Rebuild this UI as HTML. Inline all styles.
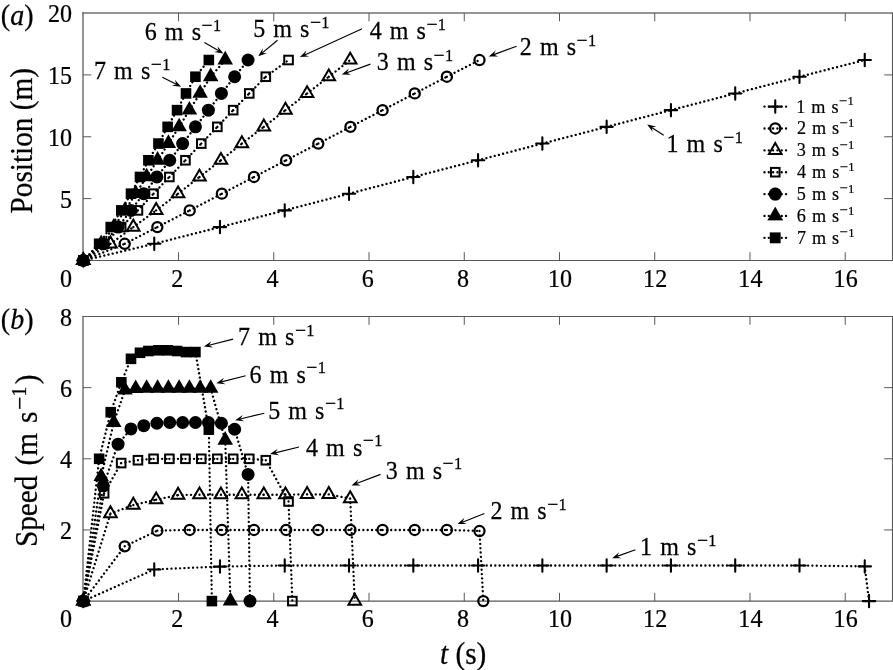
<!DOCTYPE html>
<html lang="en"><head><meta charset="utf-8"><title>Position and speed versus time</title>
<style>html,body{margin:0;padding:0;background:#fff}svg{display:block}</style></head>
<body>
<svg width="893" height="670" viewBox="0 0 893 670">
<rect width="893" height="670" fill="#fff"/>
<path d="M83.0 12.5V261.0" stroke="#2a2a2a" stroke-width="1" fill="none"/>
<path d="M82.5 13.0H893.0" stroke="#2a2a2a" stroke-width="1" fill="none"/>
<path d="M82.5 260.5H893.0M892.5 13.0V260.5" stroke="#585858" stroke-width="1.1" fill="none"/>
<path d="M178.54 260.5v-8.3M178.54 13.0v8.3M273.78 260.5v-8.3M273.78 13.0v8.3M369.02 260.5v-8.3M369.02 13.0v8.3M464.26 260.5v-8.3M464.26 13.0v8.3M559.50 260.5v-8.3M559.50 13.0v8.3M654.74 260.5v-8.3M654.74 13.0v8.3M749.98 260.5v-8.3M749.98 13.0v8.3M845.22 260.5v-8.3M845.22 13.0v8.3M83.0 198.62h8.3M892.50 198.62h-8.3M83.0 136.75h8.3M892.50 136.75h-8.3M83.0 74.88h8.3M892.50 74.88h-8.3" stroke="#585858" stroke-width="1" fill="none"/>
<path d="M83.0 316.0V601.6" stroke="#2a2a2a" stroke-width="1" fill="none"/>
<path d="M82.5 316.5H893.0" stroke="#585858" stroke-width="1" fill="none"/>
<path d="M82.5 601.1H893.0M892.5 316.5V601.1" stroke="#585858" stroke-width="1.1" fill="none"/>
<path d="M178.54 601.1v-8.3M178.54 316.5v8.3M273.78 601.1v-8.3M273.78 316.5v8.3M369.02 601.1v-8.3M369.02 316.5v8.3M464.26 601.1v-8.3M464.26 316.5v8.3M559.50 601.1v-8.3M559.50 316.5v8.3M654.74 601.1v-8.3M654.74 316.5v8.3M749.98 601.1v-8.3M749.98 316.5v8.3M845.22 601.1v-8.3M845.22 316.5v8.3M83.0 529.95h8.3M892.50 529.95h-8.3M83.0 458.80h8.3M892.50 458.80h-8.3M83.0 387.65h8.3M892.50 387.65h-8.3" stroke="#585858" stroke-width="1" fill="none"/>
<g font-family="'Liberation Serif', 'Times New Roman', serif" fill="#000" stroke="#000" stroke-width="0.25">
<text transform="translate(72.00 287.10) scale(0.94 1)" font-size="25.6" text-anchor="end">0</text>
<text transform="translate(72.00 627.30) scale(0.94 1)" font-size="25.6" text-anchor="end">0</text>
<text transform="translate(177.24 287.10) scale(0.94 1)" font-size="25.6" text-anchor="middle">2</text>
<text transform="translate(177.24 627.30) scale(0.94 1)" font-size="25.6" text-anchor="middle">2</text>
<text transform="translate(272.48 287.10) scale(0.94 1)" font-size="25.6" text-anchor="middle">4</text>
<text transform="translate(272.48 627.30) scale(0.94 1)" font-size="25.6" text-anchor="middle">4</text>
<text transform="translate(367.72 287.10) scale(0.94 1)" font-size="25.6" text-anchor="middle">6</text>
<text transform="translate(367.72 627.30) scale(0.94 1)" font-size="25.6" text-anchor="middle">6</text>
<text transform="translate(462.96 287.10) scale(0.94 1)" font-size="25.6" text-anchor="middle">8</text>
<text transform="translate(462.96 627.30) scale(0.94 1)" font-size="25.6" text-anchor="middle">8</text>
<text transform="translate(559.90 287.10) scale(0.94 1)" font-size="25.6" text-anchor="middle">10</text>
<text transform="translate(559.90 627.30) scale(0.94 1)" font-size="25.6" text-anchor="middle">10</text>
<text transform="translate(655.14 287.10) scale(0.94 1)" font-size="25.6" text-anchor="middle">12</text>
<text transform="translate(655.14 627.30) scale(0.94 1)" font-size="25.6" text-anchor="middle">12</text>
<text transform="translate(750.38 287.10) scale(0.94 1)" font-size="25.6" text-anchor="middle">14</text>
<text transform="translate(750.38 627.30) scale(0.94 1)" font-size="25.6" text-anchor="middle">14</text>
<text transform="translate(845.62 287.10) scale(0.94 1)" font-size="25.6" text-anchor="middle">16</text>
<text transform="translate(845.62 627.30) scale(0.94 1)" font-size="25.6" text-anchor="middle">16</text>
<text transform="translate(72.00 207.82) scale(0.94 1)" font-size="25.6" text-anchor="end">5</text>
<text transform="translate(72.00 145.95) scale(0.94 1)" font-size="25.6" text-anchor="end">10</text>
<text transform="translate(72.00 84.08) scale(0.94 1)" font-size="25.6" text-anchor="end">15</text>
<text transform="translate(72.00 22.20) scale(0.94 1)" font-size="25.6" text-anchor="end">20</text>
<text transform="translate(72.00 539.15) scale(0.94 1)" font-size="25.6" text-anchor="end">2</text>
<text transform="translate(72.00 468.00) scale(0.94 1)" font-size="25.6" text-anchor="end">4</text>
<text transform="translate(72.00 396.85) scale(0.94 1)" font-size="25.6" text-anchor="end">6</text>
<text transform="translate(72.00 325.70) scale(0.94 1)" font-size="25.6" text-anchor="end">8</text>
<text transform="translate(0.80 25.30) scale(0.95 1)" font-size="29.5" text-anchor="start">(<tspan font-style="italic">a</tspan>)</text>
<text transform="translate(0.80 328.60) scale(0.95 1)" font-size="29.5" text-anchor="start">(<tspan font-style="italic">b</tspan>)</text>
<text transform="translate(31.50 213.50) rotate(-90) scale(0.945 1)" font-size="31" text-anchor="start">Position (m)</text>
<text transform="translate(36.50 547.10) rotate(-90) scale(0.945 1)" font-size="31" text-anchor="start" word-spacing="2.8">Speed (m s<tspan font-size="25" dy="-8.2" dx="1.7">−</tspan><tspan font-size="20.5" dx="0.4" dy="-2.3">1</tspan><tspan dy="10.5" dx="2.7">)</tspan></text>
<text transform="translate(440.00 663.50) scale(0.945 1)" font-size="31" text-anchor="start"><tspan font-style="italic">t</tspan> (s)</text>
</g>
<path d="M83.30 260.50L154.25 243.79M154.25 243.79L219.97 227.09M219.97 227.09L284.73 210.38M284.73 210.38L349.02 193.68M349.02 193.68L413.31 176.97M413.31 176.97L478.07 160.26M478.07 160.26L542.36 143.56M542.36 143.56L606.64 126.85M606.64 126.85L670.93 110.14M670.93 110.14L735.22 93.44M735.22 93.44L799.50 76.73M799.50 76.73L864.74 60.02" stroke="#000" stroke-width="2.35" stroke-linecap="round" stroke-dasharray="0.01 4.3" fill="none"/>
<path d="M83.30 260.50L124.73 243.79M124.73 243.79L157.35 227.09M157.35 227.09L189.73 210.38M189.73 210.38L221.87 193.68M221.87 193.68L254.02 176.97M254.02 176.97L286.16 160.26M286.16 160.26L318.30 143.56M318.30 143.56L350.45 126.85M350.45 126.85L382.59 110.14M382.59 110.14L414.74 93.44M414.74 93.44L446.88 76.73M446.88 76.73L479.50 60.02" stroke="#000" stroke-width="2.35" stroke-linecap="round" stroke-dasharray="0.01 4.3" fill="none"/>
<path d="M83.30 260.50L110.44 243.79M110.44 243.79L133.30 227.09M133.30 227.09L156.16 210.38M156.16 210.38L178.06 193.68M178.06 193.68L199.49 176.97M199.49 176.97L220.92 160.26M220.92 160.26L241.87 143.56M241.87 143.56L263.78 126.85M263.78 126.85L285.45 110.14M285.45 110.14L307.11 93.44M307.11 93.44L328.78 76.73M328.78 76.73L350.21 60.02" stroke="#000" stroke-width="2.35" stroke-linecap="round" stroke-dasharray="0.01 4.3" fill="none"/>
<path d="M83.30 260.50L104.13 243.79M104.13 243.79L121.16 227.09M121.16 227.09L137.94 210.38M137.94 210.38L153.54 193.68M153.54 193.68L169.37 176.97M169.37 176.97L185.44 160.26M185.44 160.26L201.28 143.56M201.28 143.56L217.35 126.85M217.35 126.85L233.18 110.14M233.18 110.14L249.26 93.44M249.26 93.44L265.80 76.73M265.80 76.73L288.54 60.02" stroke="#000" stroke-width="2.35" stroke-linecap="round" stroke-dasharray="0.01 4.3" fill="none"/>
<path d="M83.30 260.50L103.30 243.79M103.30 243.79L118.06 227.09M118.06 227.09L130.92 210.38M130.92 210.38L143.78 193.68M143.78 193.68L156.87 176.97M156.87 176.97L169.73 160.26M169.73 160.26L182.64 143.56M182.64 143.56L195.45 126.85M195.45 126.85L208.40 110.14M208.40 110.14L221.40 93.44M221.40 93.44L234.64 76.73M234.64 76.73L248.07 60.02" stroke="#000" stroke-width="2.35" stroke-linecap="round" stroke-dasharray="0.01 4.3" fill="none"/>
<path d="M83.30 260.50L101.16 243.79M101.16 243.79L113.78 227.09M113.78 227.09L124.97 210.38M124.97 210.38L135.68 193.68M135.68 193.68L146.63 176.97M146.63 176.97L157.59 160.26M157.59 160.26L168.40 143.56M168.40 143.56L179.16 126.85M179.16 126.85L189.40 110.14M189.40 110.14L200.11 93.44M200.11 93.44L210.68 76.73M210.68 76.73L225.21 60.02" stroke="#000" stroke-width="2.35" stroke-linecap="round" stroke-dasharray="0.01 4.3" fill="none"/>
<path d="M83.30 260.50L99.15 243.79M99.15 243.79L110.72 227.09M110.72 227.09L121.33 210.38M121.33 210.38L130.99 193.68M130.99 193.68L139.98 176.97M139.98 176.97L148.40 160.26M148.40 160.26L158.44 143.56M158.44 143.56L167.63 126.85M167.63 126.85L177.05 110.14M177.05 110.14L186.00 93.44M186.00 93.44L195.42 76.73M195.42 76.73L208.83 60.02" stroke="#000" stroke-width="2.35" stroke-linecap="round" stroke-dasharray="0.01 4.3" fill="none"/>
<path d="M77.10 260.5H89.50M83.3 254.30V266.70" stroke="#000" stroke-width="2.1" stroke-linecap="round" fill="none"/>
<path d="M148.05 243.79H160.45M154.25 237.59V249.99" stroke="#000" stroke-width="2.1" stroke-linecap="round" fill="none"/>
<path d="M213.77 227.09H226.17M219.97 220.89V233.29" stroke="#000" stroke-width="2.1" stroke-linecap="round" fill="none"/>
<path d="M278.53 210.38H290.93M284.73 204.18V216.58" stroke="#000" stroke-width="2.1" stroke-linecap="round" fill="none"/>
<path d="M342.82 193.68H355.22M349.02 187.48V199.88" stroke="#000" stroke-width="2.1" stroke-linecap="round" fill="none"/>
<path d="M407.11 176.97H419.51M413.31 170.77V183.17" stroke="#000" stroke-width="2.1" stroke-linecap="round" fill="none"/>
<path d="M471.87 160.26H484.27M478.07 154.06V166.46" stroke="#000" stroke-width="2.1" stroke-linecap="round" fill="none"/>
<path d="M536.16 143.56H548.56M542.36 137.36V149.76" stroke="#000" stroke-width="2.1" stroke-linecap="round" fill="none"/>
<path d="M600.44 126.85H612.84M606.64 120.65V133.05" stroke="#000" stroke-width="2.1" stroke-linecap="round" fill="none"/>
<path d="M664.73 110.14H677.13M670.93 103.94V116.34" stroke="#000" stroke-width="2.1" stroke-linecap="round" fill="none"/>
<path d="M729.02 93.44H741.42M735.22 87.24V99.64" stroke="#000" stroke-width="2.1" stroke-linecap="round" fill="none"/>
<path d="M793.30 76.73H805.70M799.5 70.53V82.93" stroke="#000" stroke-width="2.1" stroke-linecap="round" fill="none"/>
<path d="M858.54 60.02H870.94M864.74 53.82V66.22" stroke="#000" stroke-width="2.1" stroke-linecap="round" fill="none"/>
<circle cx="83.3" cy="260.5" r="5.05" stroke="#000" stroke-width="2.25" fill="none"/>
<circle cx="124.73" cy="243.79" r="5.05" stroke="#000" stroke-width="2.25" fill="none"/>
<circle cx="157.35" cy="227.09" r="5.05" stroke="#000" stroke-width="2.25" fill="none"/>
<circle cx="189.73" cy="210.38" r="5.05" stroke="#000" stroke-width="2.25" fill="none"/>
<circle cx="221.87" cy="193.68" r="5.05" stroke="#000" stroke-width="2.25" fill="none"/>
<circle cx="254.02" cy="176.97" r="5.05" stroke="#000" stroke-width="2.25" fill="none"/>
<circle cx="286.16" cy="160.26" r="5.05" stroke="#000" stroke-width="2.25" fill="none"/>
<circle cx="318.3" cy="143.56" r="5.05" stroke="#000" stroke-width="2.25" fill="none"/>
<circle cx="350.45" cy="126.85" r="5.05" stroke="#000" stroke-width="2.25" fill="none"/>
<circle cx="382.59" cy="110.14" r="5.05" stroke="#000" stroke-width="2.25" fill="none"/>
<circle cx="414.74" cy="93.44" r="5.05" stroke="#000" stroke-width="2.25" fill="none"/>
<circle cx="446.88" cy="76.73" r="5.05" stroke="#000" stroke-width="2.25" fill="none"/>
<circle cx="479.5" cy="60.02" r="5.05" stroke="#000" stroke-width="2.25" fill="none"/>
<path d="M83.3 253.20L89.60 264.10H77.00Z" stroke="#000" stroke-width="2" fill="none" stroke-linejoin="miter"/>
<path d="M110.44 236.49L116.74 247.39H104.14Z" stroke="#000" stroke-width="2" fill="none" stroke-linejoin="miter"/>
<path d="M133.3 219.79L139.60 230.69H127.00Z" stroke="#000" stroke-width="2" fill="none" stroke-linejoin="miter"/>
<path d="M156.16 203.08L162.46 213.98H149.86Z" stroke="#000" stroke-width="2" fill="none" stroke-linejoin="miter"/>
<path d="M178.06 186.38L184.36 197.28H171.76Z" stroke="#000" stroke-width="2" fill="none" stroke-linejoin="miter"/>
<path d="M199.49 169.67L205.79 180.57H193.19Z" stroke="#000" stroke-width="2" fill="none" stroke-linejoin="miter"/>
<path d="M220.92 152.96L227.22 163.86H214.62Z" stroke="#000" stroke-width="2" fill="none" stroke-linejoin="miter"/>
<path d="M241.87 136.26L248.17 147.16H235.57Z" stroke="#000" stroke-width="2" fill="none" stroke-linejoin="miter"/>
<path d="M263.78 119.55L270.08 130.45H257.48Z" stroke="#000" stroke-width="2" fill="none" stroke-linejoin="miter"/>
<path d="M285.45 102.84L291.75 113.74H279.15Z" stroke="#000" stroke-width="2" fill="none" stroke-linejoin="miter"/>
<path d="M307.11 86.14L313.41 97.04H300.81Z" stroke="#000" stroke-width="2" fill="none" stroke-linejoin="miter"/>
<path d="M328.78 69.43L335.08 80.33H322.48Z" stroke="#000" stroke-width="2" fill="none" stroke-linejoin="miter"/>
<path d="M350.21 52.72L356.51 63.62H343.91Z" stroke="#000" stroke-width="2" fill="none" stroke-linejoin="miter"/>
<rect x="79.00" y="256.20" width="8.6" height="8.6" stroke="#000" stroke-width="2" fill="none"/>
<rect x="99.83" y="239.49" width="8.6" height="8.6" stroke="#000" stroke-width="2" fill="none"/>
<rect x="116.86" y="222.79" width="8.6" height="8.6" stroke="#000" stroke-width="2" fill="none"/>
<rect x="133.64" y="206.08" width="8.6" height="8.6" stroke="#000" stroke-width="2" fill="none"/>
<rect x="149.24" y="189.38" width="8.6" height="8.6" stroke="#000" stroke-width="2" fill="none"/>
<rect x="165.07" y="172.67" width="8.6" height="8.6" stroke="#000" stroke-width="2" fill="none"/>
<rect x="181.14" y="155.96" width="8.6" height="8.6" stroke="#000" stroke-width="2" fill="none"/>
<rect x="196.98" y="139.26" width="8.6" height="8.6" stroke="#000" stroke-width="2" fill="none"/>
<rect x="213.05" y="122.55" width="8.6" height="8.6" stroke="#000" stroke-width="2" fill="none"/>
<rect x="228.88" y="105.84" width="8.6" height="8.6" stroke="#000" stroke-width="2" fill="none"/>
<rect x="244.96" y="89.14" width="8.6" height="8.6" stroke="#000" stroke-width="2" fill="none"/>
<rect x="261.50" y="72.43" width="8.6" height="8.6" stroke="#000" stroke-width="2" fill="none"/>
<rect x="284.24" y="55.72" width="8.6" height="8.6" stroke="#000" stroke-width="2" fill="none"/>
<circle cx="83.3" cy="260.5" r="6.5" fill="#000"/>
<circle cx="103.3" cy="243.79" r="6.5" fill="#000"/>
<circle cx="118.06" cy="227.09" r="6.5" fill="#000"/>
<circle cx="130.92" cy="210.38" r="6.5" fill="#000"/>
<circle cx="143.78" cy="193.68" r="6.5" fill="#000"/>
<circle cx="156.87" cy="176.97" r="6.5" fill="#000"/>
<circle cx="169.73" cy="160.26" r="6.5" fill="#000"/>
<circle cx="182.64" cy="143.56" r="6.5" fill="#000"/>
<circle cx="195.45" cy="126.85" r="6.5" fill="#000"/>
<circle cx="208.4" cy="110.14" r="6.5" fill="#000"/>
<circle cx="221.4" cy="93.44" r="6.5" fill="#000"/>
<circle cx="234.64" cy="76.73" r="6.5" fill="#000"/>
<circle cx="248.07" cy="60.02" r="6.5" fill="#000"/>
<path d="M83.3 251.30L91.05 264.90H75.55Z" fill="#000"/>
<path d="M101.16 234.59L108.91 248.19H93.41Z" fill="#000"/>
<path d="M113.78 217.89L121.53 231.49H106.03Z" fill="#000"/>
<path d="M124.97 201.18L132.72 214.78H117.22Z" fill="#000"/>
<path d="M135.68 184.48L143.43 198.08H127.93Z" fill="#000"/>
<path d="M146.63 167.77L154.38 181.37H138.88Z" fill="#000"/>
<path d="M157.59 151.06L165.34 164.66H149.84Z" fill="#000"/>
<path d="M168.4 134.36L176.15 147.96H160.65Z" fill="#000"/>
<path d="M179.16 117.65L186.91 131.25H171.41Z" fill="#000"/>
<path d="M189.4 100.94L197.15 114.54H181.65Z" fill="#000"/>
<path d="M200.11 84.24L207.86 97.84H192.36Z" fill="#000"/>
<path d="M210.68 67.53L218.43 81.13H202.93Z" fill="#000"/>
<path d="M225.21 50.82L232.96 64.42H217.46Z" fill="#000"/>
<rect x="78.00" y="255.20" width="10.6" height="10.6" fill="#000"/>
<rect x="93.85" y="238.49" width="10.6" height="10.6" fill="#000"/>
<rect x="105.42" y="221.79" width="10.6" height="10.6" fill="#000"/>
<rect x="116.03" y="205.08" width="10.6" height="10.6" fill="#000"/>
<rect x="125.69" y="188.38" width="10.6" height="10.6" fill="#000"/>
<rect x="134.68" y="171.67" width="10.6" height="10.6" fill="#000"/>
<rect x="143.10" y="154.96" width="10.6" height="10.6" fill="#000"/>
<rect x="153.14" y="138.26" width="10.6" height="10.6" fill="#000"/>
<rect x="162.33" y="121.55" width="10.6" height="10.6" fill="#000"/>
<rect x="171.75" y="104.84" width="10.6" height="10.6" fill="#000"/>
<rect x="180.70" y="88.14" width="10.6" height="10.6" fill="#000"/>
<rect x="190.12" y="71.43" width="10.6" height="10.6" fill="#000"/>
<rect x="203.53" y="54.72" width="10.6" height="10.6" fill="#000"/>
<path d="M83.30 601.10L154.25 569.44M154.25 569.44L219.97 566.59M219.97 566.59L284.73 565.52M284.73 565.52L349.02 565.52M349.02 565.52L413.31 565.52M413.31 565.52L478.07 565.52M478.07 565.52L542.36 565.52M542.36 565.52L606.64 565.52M606.64 565.52L670.93 565.52M670.93 565.52L735.22 565.52M735.22 565.52L799.50 565.52M799.50 565.52L864.74 566.41M864.74 566.41L869.03 601.10" stroke="#000" stroke-width="2.35" stroke-linecap="round" stroke-dasharray="0.01 4.3" fill="none"/>
<path d="M83.30 601.10L124.73 546.31M124.73 546.31L157.35 530.66M157.35 530.66L189.73 529.95M189.73 529.95L221.87 529.95M221.87 529.95L254.02 529.95M254.02 529.95L286.16 529.95M286.16 529.95L318.30 529.95M318.30 529.95L350.45 529.95M350.45 529.95L382.59 529.95M382.59 529.95L414.74 529.95M414.74 529.95L446.88 529.95M446.88 529.95L479.50 531.02M479.50 531.02L483.31 601.10" stroke="#000" stroke-width="2.35" stroke-linecap="round" stroke-dasharray="0.01 4.3" fill="none"/>
<path d="M83.30 601.10L110.44 513.59M110.44 513.59L133.30 505.05M133.30 505.05L156.16 499.71M156.16 499.71L178.06 495.09M178.06 495.09L199.49 494.73M199.49 494.73L220.92 494.73M220.92 494.73L241.87 494.73M241.87 494.73L263.78 494.73M263.78 494.73L285.45 494.73M285.45 494.73L307.11 494.38M307.11 494.38L328.78 494.38M328.78 494.38L350.21 498.64M350.21 498.64L354.73 601.10" stroke="#000" stroke-width="2.35" stroke-linecap="round" stroke-dasharray="0.01 4.3" fill="none"/>
<path d="M83.30 601.10L104.13 493.31M104.13 493.31L121.16 463.07M121.16 463.07L137.94 460.22M137.94 460.22L153.54 458.80M153.54 458.80L169.37 458.80M169.37 458.80L185.44 458.80M185.44 458.80L201.28 458.80M201.28 458.80L217.35 458.80M217.35 458.80L233.18 458.80M233.18 458.80L249.26 458.80M249.26 458.80L265.80 460.22M265.80 460.22L288.54 501.49M288.54 501.49L292.35 601.10" stroke="#000" stroke-width="2.35" stroke-linecap="round" stroke-dasharray="0.01 4.3" fill="none"/>
<path d="M83.30 601.10L103.30 485.84M103.30 485.84L118.06 444.21M118.06 444.21L130.92 428.92M130.92 428.92L143.78 425.72M143.78 425.72L156.87 423.23M156.87 423.23L169.73 422.51M169.73 422.51L182.64 422.51M182.64 422.51L195.45 422.51M195.45 422.51L208.40 422.51M208.40 422.51L221.40 423.23M221.40 423.23L234.64 429.27M234.64 429.27L248.07 474.45M248.07 474.45L249.97 601.10" stroke="#000" stroke-width="2.35" stroke-linecap="round" stroke-dasharray="0.01 4.3" fill="none"/>
<path d="M83.30 601.10L101.16 476.59M101.16 476.59L113.78 422.51M113.78 422.51L124.97 390.14M124.97 390.14L135.68 388.72M135.68 388.72L146.63 388.36M146.63 388.36L157.59 388.36M157.59 388.36L168.40 388.36M168.40 388.36L179.16 388.36M179.16 388.36L189.40 388.36M189.40 388.36L200.11 388.36M200.11 388.36L210.68 388.36M210.68 388.36L225.21 440.30M225.21 440.30L230.45 601.10" stroke="#000" stroke-width="2.35" stroke-linecap="round" stroke-dasharray="0.01 4.3" fill="none"/>
<path d="M83.30 601.10L99.15 458.80M99.15 458.80L110.72 412.20M110.72 412.20L121.33 382.31M121.33 382.31L130.99 358.83M130.99 358.83L139.98 352.79M139.98 352.79L148.40 351.01M148.40 351.01L158.44 350.30M158.44 350.30L167.63 350.30M167.63 350.30L177.05 351.01M177.05 351.01L186.00 352.07M186.00 352.07L195.42 352.07M195.42 352.07L208.83 429.63M208.83 429.63L211.87 601.10" stroke="#000" stroke-width="2.35" stroke-linecap="round" stroke-dasharray="0.01 4.3" fill="none"/>
<path d="M77.10 601.1H89.50M83.3 594.90V607.30" stroke="#000" stroke-width="2.1" stroke-linecap="round" fill="none"/>
<path d="M148.05 569.44H160.45M154.25 563.24V575.64" stroke="#000" stroke-width="2.1" stroke-linecap="round" fill="none"/>
<path d="M213.77 566.59H226.17M219.97 560.39V572.79" stroke="#000" stroke-width="2.1" stroke-linecap="round" fill="none"/>
<path d="M278.53 565.52H290.93M284.73 559.32V571.72" stroke="#000" stroke-width="2.1" stroke-linecap="round" fill="none"/>
<path d="M342.82 565.52H355.22M349.02 559.32V571.72" stroke="#000" stroke-width="2.1" stroke-linecap="round" fill="none"/>
<path d="M407.11 565.52H419.51M413.31 559.32V571.72" stroke="#000" stroke-width="2.1" stroke-linecap="round" fill="none"/>
<path d="M471.87 565.52H484.27M478.07 559.32V571.72" stroke="#000" stroke-width="2.1" stroke-linecap="round" fill="none"/>
<path d="M536.16 565.52H548.56M542.36 559.32V571.72" stroke="#000" stroke-width="2.1" stroke-linecap="round" fill="none"/>
<path d="M600.44 565.52H612.84M606.64 559.32V571.72" stroke="#000" stroke-width="2.1" stroke-linecap="round" fill="none"/>
<path d="M664.73 565.52H677.13M670.93 559.32V571.72" stroke="#000" stroke-width="2.1" stroke-linecap="round" fill="none"/>
<path d="M729.02 565.52H741.42M735.22 559.32V571.72" stroke="#000" stroke-width="2.1" stroke-linecap="round" fill="none"/>
<path d="M793.30 565.52H805.70M799.5 559.32V571.72" stroke="#000" stroke-width="2.1" stroke-linecap="round" fill="none"/>
<path d="M858.54 566.41H870.94M864.74 560.21V572.61" stroke="#000" stroke-width="2.1" stroke-linecap="round" fill="none"/>
<path d="M862.83 601.1H875.23M869.03 594.90V607.30" stroke="#000" stroke-width="2.1" stroke-linecap="round" fill="none"/>
<circle cx="83.3" cy="601.1" r="5.05" stroke="#000" stroke-width="2.25" fill="none"/>
<circle cx="124.73" cy="546.31" r="5.05" stroke="#000" stroke-width="2.25" fill="none"/>
<circle cx="157.35" cy="530.66" r="5.05" stroke="#000" stroke-width="2.25" fill="none"/>
<circle cx="189.73" cy="529.95" r="5.05" stroke="#000" stroke-width="2.25" fill="none"/>
<circle cx="221.87" cy="529.95" r="5.05" stroke="#000" stroke-width="2.25" fill="none"/>
<circle cx="254.02" cy="529.95" r="5.05" stroke="#000" stroke-width="2.25" fill="none"/>
<circle cx="286.16" cy="529.95" r="5.05" stroke="#000" stroke-width="2.25" fill="none"/>
<circle cx="318.3" cy="529.95" r="5.05" stroke="#000" stroke-width="2.25" fill="none"/>
<circle cx="350.45" cy="529.95" r="5.05" stroke="#000" stroke-width="2.25" fill="none"/>
<circle cx="382.59" cy="529.95" r="5.05" stroke="#000" stroke-width="2.25" fill="none"/>
<circle cx="414.74" cy="529.95" r="5.05" stroke="#000" stroke-width="2.25" fill="none"/>
<circle cx="446.88" cy="529.95" r="5.05" stroke="#000" stroke-width="2.25" fill="none"/>
<circle cx="479.5" cy="531.02" r="5.05" stroke="#000" stroke-width="2.25" fill="none"/>
<circle cx="483.31" cy="601.1" r="5.05" stroke="#000" stroke-width="2.25" fill="none"/>
<path d="M83.3 593.80L89.60 604.70H77.00Z" stroke="#000" stroke-width="2" fill="none" stroke-linejoin="miter"/>
<path d="M110.44 506.29L116.74 517.19H104.14Z" stroke="#000" stroke-width="2" fill="none" stroke-linejoin="miter"/>
<path d="M133.3 497.75L139.60 508.65H127.00Z" stroke="#000" stroke-width="2" fill="none" stroke-linejoin="miter"/>
<path d="M156.16 492.41L162.46 503.31H149.86Z" stroke="#000" stroke-width="2" fill="none" stroke-linejoin="miter"/>
<path d="M178.06 487.79L184.36 498.69H171.76Z" stroke="#000" stroke-width="2" fill="none" stroke-linejoin="miter"/>
<path d="M199.49 487.43L205.79 498.33H193.19Z" stroke="#000" stroke-width="2" fill="none" stroke-linejoin="miter"/>
<path d="M220.92 487.43L227.22 498.33H214.62Z" stroke="#000" stroke-width="2" fill="none" stroke-linejoin="miter"/>
<path d="M241.87 487.43L248.17 498.33H235.57Z" stroke="#000" stroke-width="2" fill="none" stroke-linejoin="miter"/>
<path d="M263.78 487.43L270.08 498.33H257.48Z" stroke="#000" stroke-width="2" fill="none" stroke-linejoin="miter"/>
<path d="M285.45 487.43L291.75 498.33H279.15Z" stroke="#000" stroke-width="2" fill="none" stroke-linejoin="miter"/>
<path d="M307.11 487.08L313.41 497.98H300.81Z" stroke="#000" stroke-width="2" fill="none" stroke-linejoin="miter"/>
<path d="M328.78 487.08L335.08 497.98H322.48Z" stroke="#000" stroke-width="2" fill="none" stroke-linejoin="miter"/>
<path d="M350.21 491.34L356.51 502.24H343.91Z" stroke="#000" stroke-width="2" fill="none" stroke-linejoin="miter"/>
<path d="M354.73 593.80L361.03 604.70H348.43Z" stroke="#000" stroke-width="2" fill="none" stroke-linejoin="miter"/>
<rect x="79.00" y="596.80" width="8.6" height="8.6" stroke="#000" stroke-width="2" fill="none"/>
<rect x="99.83" y="489.01" width="8.6" height="8.6" stroke="#000" stroke-width="2" fill="none"/>
<rect x="116.86" y="458.77" width="8.6" height="8.6" stroke="#000" stroke-width="2" fill="none"/>
<rect x="133.64" y="455.92" width="8.6" height="8.6" stroke="#000" stroke-width="2" fill="none"/>
<rect x="149.24" y="454.50" width="8.6" height="8.6" stroke="#000" stroke-width="2" fill="none"/>
<rect x="165.07" y="454.50" width="8.6" height="8.6" stroke="#000" stroke-width="2" fill="none"/>
<rect x="181.14" y="454.50" width="8.6" height="8.6" stroke="#000" stroke-width="2" fill="none"/>
<rect x="196.98" y="454.50" width="8.6" height="8.6" stroke="#000" stroke-width="2" fill="none"/>
<rect x="213.05" y="454.50" width="8.6" height="8.6" stroke="#000" stroke-width="2" fill="none"/>
<rect x="228.88" y="454.50" width="8.6" height="8.6" stroke="#000" stroke-width="2" fill="none"/>
<rect x="244.96" y="454.50" width="8.6" height="8.6" stroke="#000" stroke-width="2" fill="none"/>
<rect x="261.50" y="455.92" width="8.6" height="8.6" stroke="#000" stroke-width="2" fill="none"/>
<rect x="284.24" y="497.19" width="8.6" height="8.6" stroke="#000" stroke-width="2" fill="none"/>
<rect x="288.05" y="596.80" width="8.6" height="8.6" stroke="#000" stroke-width="2" fill="none"/>
<circle cx="83.3" cy="601.1" r="6.5" fill="#000"/>
<circle cx="103.3" cy="485.84" r="6.5" fill="#000"/>
<circle cx="118.06" cy="444.21" r="6.5" fill="#000"/>
<circle cx="130.92" cy="428.92" r="6.5" fill="#000"/>
<circle cx="143.78" cy="425.72" r="6.5" fill="#000"/>
<circle cx="156.87" cy="423.23" r="6.5" fill="#000"/>
<circle cx="169.73" cy="422.51" r="6.5" fill="#000"/>
<circle cx="182.64" cy="422.51" r="6.5" fill="#000"/>
<circle cx="195.45" cy="422.51" r="6.5" fill="#000"/>
<circle cx="208.4" cy="422.51" r="6.5" fill="#000"/>
<circle cx="221.4" cy="423.23" r="6.5" fill="#000"/>
<circle cx="234.64" cy="429.27" r="6.5" fill="#000"/>
<circle cx="248.07" cy="474.45" r="6.5" fill="#000"/>
<circle cx="249.97" cy="601.1" r="6.5" fill="#000"/>
<path d="M83.3 591.90L91.05 605.50H75.55Z" fill="#000"/>
<path d="M101.16 467.39L108.91 480.99H93.41Z" fill="#000"/>
<path d="M113.78 413.31L121.53 426.91H106.03Z" fill="#000"/>
<path d="M124.97 380.94L132.72 394.54H117.22Z" fill="#000"/>
<path d="M135.68 379.52L143.43 393.12H127.93Z" fill="#000"/>
<path d="M146.63 379.16L154.38 392.76H138.88Z" fill="#000"/>
<path d="M157.59 379.16L165.34 392.76H149.84Z" fill="#000"/>
<path d="M168.4 379.16L176.15 392.76H160.65Z" fill="#000"/>
<path d="M179.16 379.16L186.91 392.76H171.41Z" fill="#000"/>
<path d="M189.4 379.16L197.15 392.76H181.65Z" fill="#000"/>
<path d="M200.11 379.16L207.86 392.76H192.36Z" fill="#000"/>
<path d="M210.68 379.16L218.43 392.76H202.93Z" fill="#000"/>
<path d="M225.21 431.10L232.96 444.70H217.46Z" fill="#000"/>
<path d="M230.45 591.90L238.20 605.50H222.70Z" fill="#000"/>
<rect x="78.00" y="595.80" width="10.6" height="10.6" fill="#000"/>
<rect x="93.85" y="453.50" width="10.6" height="10.6" fill="#000"/>
<rect x="105.42" y="406.90" width="10.6" height="10.6" fill="#000"/>
<rect x="116.03" y="377.01" width="10.6" height="10.6" fill="#000"/>
<rect x="125.69" y="353.53" width="10.6" height="10.6" fill="#000"/>
<rect x="134.68" y="347.49" width="10.6" height="10.6" fill="#000"/>
<rect x="143.10" y="345.71" width="10.6" height="10.6" fill="#000"/>
<rect x="153.14" y="345.00" width="10.6" height="10.6" fill="#000"/>
<rect x="162.33" y="345.00" width="10.6" height="10.6" fill="#000"/>
<rect x="171.75" y="345.71" width="10.6" height="10.6" fill="#000"/>
<rect x="180.70" y="346.77" width="10.6" height="10.6" fill="#000"/>
<rect x="190.12" y="346.77" width="10.6" height="10.6" fill="#000"/>
<rect x="203.53" y="424.33" width="10.6" height="10.6" fill="#000"/>
<rect x="206.57" y="595.80" width="10.6" height="10.6" fill="#000"/>
<g font-family="'Liberation Serif', 'Times New Roman', serif" fill="#000" stroke="#000" stroke-width="0.25">
<text transform="translate(94.00 78.90) scale(0.96 1)" font-size="25" text-anchor="start" word-spacing="2.2">7 m s<tspan font-size="20.5" dy="-8.4" dx="0.6">−</tspan><tspan font-size="17" dx="0.3" dy="-0.9">1</tspan></text>
<text transform="translate(144.75 40.00) scale(0.96 1)" font-size="25" text-anchor="start" word-spacing="2.2">6 m s<tspan font-size="20.5" dy="-8.4" dx="0.6">−</tspan><tspan font-size="17" dx="0.3" dy="-0.9">1</tspan></text>
<text transform="translate(253.20 37.10) scale(0.96 1)" font-size="25" text-anchor="start" word-spacing="2.2">5 m s<tspan font-size="20.5" dy="-8.4" dx="0.6">−</tspan><tspan font-size="17" dx="0.3" dy="-0.9">1</tspan></text>
<text transform="translate(369.70 39.00) scale(0.96 1)" font-size="25" text-anchor="start" word-spacing="2.2">4 m s<tspan font-size="20.5" dy="-8.4" dx="0.6">−</tspan><tspan font-size="17" dx="0.3" dy="-0.9">1</tspan></text>
<text transform="translate(376.80 70.00) scale(0.96 1)" font-size="25" text-anchor="start" word-spacing="2.2">3 m s<tspan font-size="20.5" dy="-8.4" dx="0.6">−</tspan><tspan font-size="17" dx="0.3" dy="-0.9">1</tspan></text>
<text transform="translate(519.80 55.30) scale(0.96 1)" font-size="25" text-anchor="start" word-spacing="2.2">2 m s<tspan font-size="20.5" dy="-8.4" dx="0.6">−</tspan><tspan font-size="17" dx="0.3" dy="-0.9">1</tspan></text>
<text transform="translate(666.50 152.20) scale(0.96 1)" font-size="25" text-anchor="start" word-spacing="2.2">1 m s<tspan font-size="20.5" dy="-8.4" dx="0.6">−</tspan><tspan font-size="17" dx="0.3" dy="-0.9">1</tspan></text>
<text transform="translate(238.10 345.10) scale(0.96 1)" font-size="25" text-anchor="start" word-spacing="2.2">7 m s<tspan font-size="20.5" dy="-8.4" dx="0.6">−</tspan><tspan font-size="17" dx="0.3" dy="-0.9">1</tspan></text>
<text transform="translate(249.55 382.70) scale(0.96 1)" font-size="25" text-anchor="start" word-spacing="2.2">6 m s<tspan font-size="20.5" dy="-8.4" dx="0.6">−</tspan><tspan font-size="17" dx="0.3" dy="-0.9">1</tspan></text>
<text transform="translate(268.20 418.60) scale(0.96 1)" font-size="25" text-anchor="start" word-spacing="2.2">5 m s<tspan font-size="20.5" dy="-8.4" dx="0.6">−</tspan><tspan font-size="17" dx="0.3" dy="-0.9">1</tspan></text>
<text transform="translate(306.00 455.50) scale(0.96 1)" font-size="25" text-anchor="start" word-spacing="2.2">4 m s<tspan font-size="20.5" dy="-8.4" dx="0.6">−</tspan><tspan font-size="17" dx="0.3" dy="-0.9">1</tspan></text>
<text transform="translate(385.80 478.60) scale(0.96 1)" font-size="25" text-anchor="start" word-spacing="2.2">3 m s<tspan font-size="20.5" dy="-8.4" dx="0.6">−</tspan><tspan font-size="17" dx="0.3" dy="-0.9">1</tspan></text>
<text transform="translate(490.40 519.00) scale(0.96 1)" font-size="25" text-anchor="start" word-spacing="2.2">2 m s<tspan font-size="20.5" dy="-8.4" dx="0.6">−</tspan><tspan font-size="17" dx="0.3" dy="-0.9">1</tspan></text>
<text transform="translate(640.10 555.40) scale(0.96 1)" font-size="25" text-anchor="start" word-spacing="2.2">1 m s<tspan font-size="20.5" dy="-8.4" dx="0.6">−</tspan><tspan font-size="17" dx="0.3" dy="-0.9">1</tspan></text>
</g>
<path d="M162.3 77.2L176.37 84.31" stroke="#000" stroke-width="1.15" fill="none"/><path d="M181.1 86.7L171.85 85.70L176.37 84.31L174.81 79.85Z" fill="#000"/>
<path d="M204.4 42.5L218.80 50.76" stroke="#000" stroke-width="1.15" fill="none"/><path d="M223.4 53.4L214.22 51.91L218.80 50.76L217.48 46.23Z" fill="#000"/>
<path d="M277.5 40.3L262.28 52.92" stroke="#000" stroke-width="1.15" fill="none"/><path d="M258.2 56.3L262.81 48.22L262.28 52.92L266.99 53.27Z" fill="#000"/>
<path d="M362.1 28.8L304.72 54.91" stroke="#000" stroke-width="1.15" fill="none"/><path d="M299.9 57.1L306.47 50.51L304.72 54.91L309.18 56.48Z" fill="#000"/>
<path d="M370.4 64.1L346.78 72.77" stroke="#000" stroke-width="1.15" fill="none"/><path d="M341.8 74.6L348.84 68.52L346.78 72.77L351.10 74.68Z" fill="#000"/>
<path d="M516.6 46.3L493.78 54.59" stroke="#000" stroke-width="1.15" fill="none"/><path d="M488.8 56.4L495.86 50.35L493.78 54.59L498.10 56.51Z" fill="#000"/>
<path d="M663.7 135.3L651.65 127.48" stroke="#000" stroke-width="1.15" fill="none"/><path d="M647.2 124.6L656.29 126.59L651.65 127.48L652.72 132.08Z" fill="#000"/>
<path d="M233.1 339.1L208.93 345.29" stroke="#000" stroke-width="1.15" fill="none"/><path d="M203.8 346.6L211.42 341.27L208.93 345.29L213.04 347.62Z" fill="#000"/>
<path d="M245.7 375.7L221.44 381.89" stroke="#000" stroke-width="1.15" fill="none"/><path d="M216.3 383.2L223.92 377.87L221.44 381.89L225.54 384.22Z" fill="#000"/>
<path d="M264.3 413.2L240.25 418.96" stroke="#000" stroke-width="1.15" fill="none"/><path d="M235.1 420.2L242.80 414.99L240.25 418.96L244.33 421.36Z" fill="#000"/>
<path d="M299 447L275.15 452.84" stroke="#000" stroke-width="1.15" fill="none"/><path d="M270 454.1L277.68 448.85L275.15 452.84L279.23 455.21Z" fill="#000"/>
<path d="M380.5 474.4L356.46 483.52" stroke="#000" stroke-width="1.15" fill="none"/><path d="M351.5 485.4L358.48 479.25L356.46 483.52L360.80 485.38Z" fill="#000"/>
<path d="M484.4 513.5L462.43 522.16" stroke="#000" stroke-width="1.15" fill="none"/><path d="M457.5 524.1L464.40 517.86L462.43 522.16L466.80 523.96Z" fill="#000"/>
<path d="M635.4 549.7L617.08 556.38" stroke="#000" stroke-width="1.15" fill="none"/><path d="M612.1 558.2L619.15 552.14L617.08 556.38L621.40 558.29Z" fill="#000"/>
<g font-family="'Liberation Serif', 'Times New Roman', serif" fill="#000" stroke="#000" stroke-width="0.2">
<path d="M764.5 106.6H786.2" stroke="#000" stroke-width="2.35" stroke-linecap="round" stroke-dasharray="0.01 4.3" fill="none"/>
<path d="M769.05 106.6H781.45M775.25 100.40V112.80" stroke="#000" stroke-width="2.1" stroke-linecap="round" fill="none"/>
<text transform="translate(796.29 112.50) scale(0.957 1)" font-size="19" text-anchor="start" word-spacing="1.5">1 m s<tspan font-size="15.5" dy="-6.6" dx="0.4">−</tspan><tspan font-size="13.2" dx="0.2" dy="-0.6">1</tspan></text>
<path d="M764.5 128.5H786.2" stroke="#000" stroke-width="2.35" stroke-linecap="round" stroke-dasharray="0.01 4.3" fill="none"/>
<circle cx="775.25" cy="128.47" r="5.05" stroke="#000" stroke-width="2.25" fill="none"/>
<text transform="translate(796.89 134.37) scale(0.957 1)" font-size="19" text-anchor="start" word-spacing="1.5">2 m s<tspan font-size="15.5" dy="-6.6" dx="0.4">−</tspan><tspan font-size="13.2" dx="0.2" dy="-0.6">1</tspan></text>
<path d="M764.5 150.3H786.2" stroke="#000" stroke-width="2.35" stroke-linecap="round" stroke-dasharray="0.01 4.3" fill="none"/>
<path d="M775.25 143.04L781.55 153.94H768.95Z" stroke="#000" stroke-width="2" fill="none" stroke-linejoin="miter"/>
<text transform="translate(796.80 156.24) scale(0.957 1)" font-size="19" text-anchor="start" word-spacing="1.5">3 m s<tspan font-size="15.5" dy="-6.6" dx="0.4">−</tspan><tspan font-size="13.2" dx="0.2" dy="-0.6">1</tspan></text>
<path d="M764.5 172.2H786.2" stroke="#000" stroke-width="2.35" stroke-linecap="round" stroke-dasharray="0.01 4.3" fill="none"/>
<rect x="770.95" y="167.91" width="8.6" height="8.6" stroke="#000" stroke-width="2" fill="none"/>
<text transform="translate(797.01 178.11) scale(0.957 1)" font-size="19" text-anchor="start" word-spacing="1.5">4 m s<tspan font-size="15.5" dy="-6.6" dx="0.4">−</tspan><tspan font-size="13.2" dx="0.2" dy="-0.6">1</tspan></text>
<path d="M764.5 194.1H786.2" stroke="#000" stroke-width="2.35" stroke-linecap="round" stroke-dasharray="0.01 4.3" fill="none"/>
<circle cx="775.25" cy="194.08" r="6.5" fill="#000"/>
<text transform="translate(796.86 199.98) scale(0.957 1)" font-size="19" text-anchor="start" word-spacing="1.5">5 m s<tspan font-size="15.5" dy="-6.6" dx="0.4">−</tspan><tspan font-size="13.2" dx="0.2" dy="-0.6">1</tspan></text>
<path d="M764.5 215.9H786.2" stroke="#000" stroke-width="2.35" stroke-linecap="round" stroke-dasharray="0.01 4.3" fill="none"/>
<path d="M775.25 206.75L783.00 220.35H767.50Z" fill="#000"/>
<text transform="translate(796.85 221.85) scale(0.957 1)" font-size="19" text-anchor="start" word-spacing="1.5">6 m s<tspan font-size="15.5" dy="-6.6" dx="0.4">−</tspan><tspan font-size="13.2" dx="0.2" dy="-0.6">1</tspan></text>
<path d="M764.5 237.8H786.2" stroke="#000" stroke-width="2.35" stroke-linecap="round" stroke-dasharray="0.01 4.3" fill="none"/>
<rect x="769.95" y="232.52" width="10.6" height="10.6" fill="#000"/>
<text transform="translate(796.95 243.72) scale(0.957 1)" font-size="19" text-anchor="start" word-spacing="1.5">7 m s<tspan font-size="15.5" dy="-6.6" dx="0.4">−</tspan><tspan font-size="13.2" dx="0.2" dy="-0.6">1</tspan></text>
</g>
</svg>
</body></html>
